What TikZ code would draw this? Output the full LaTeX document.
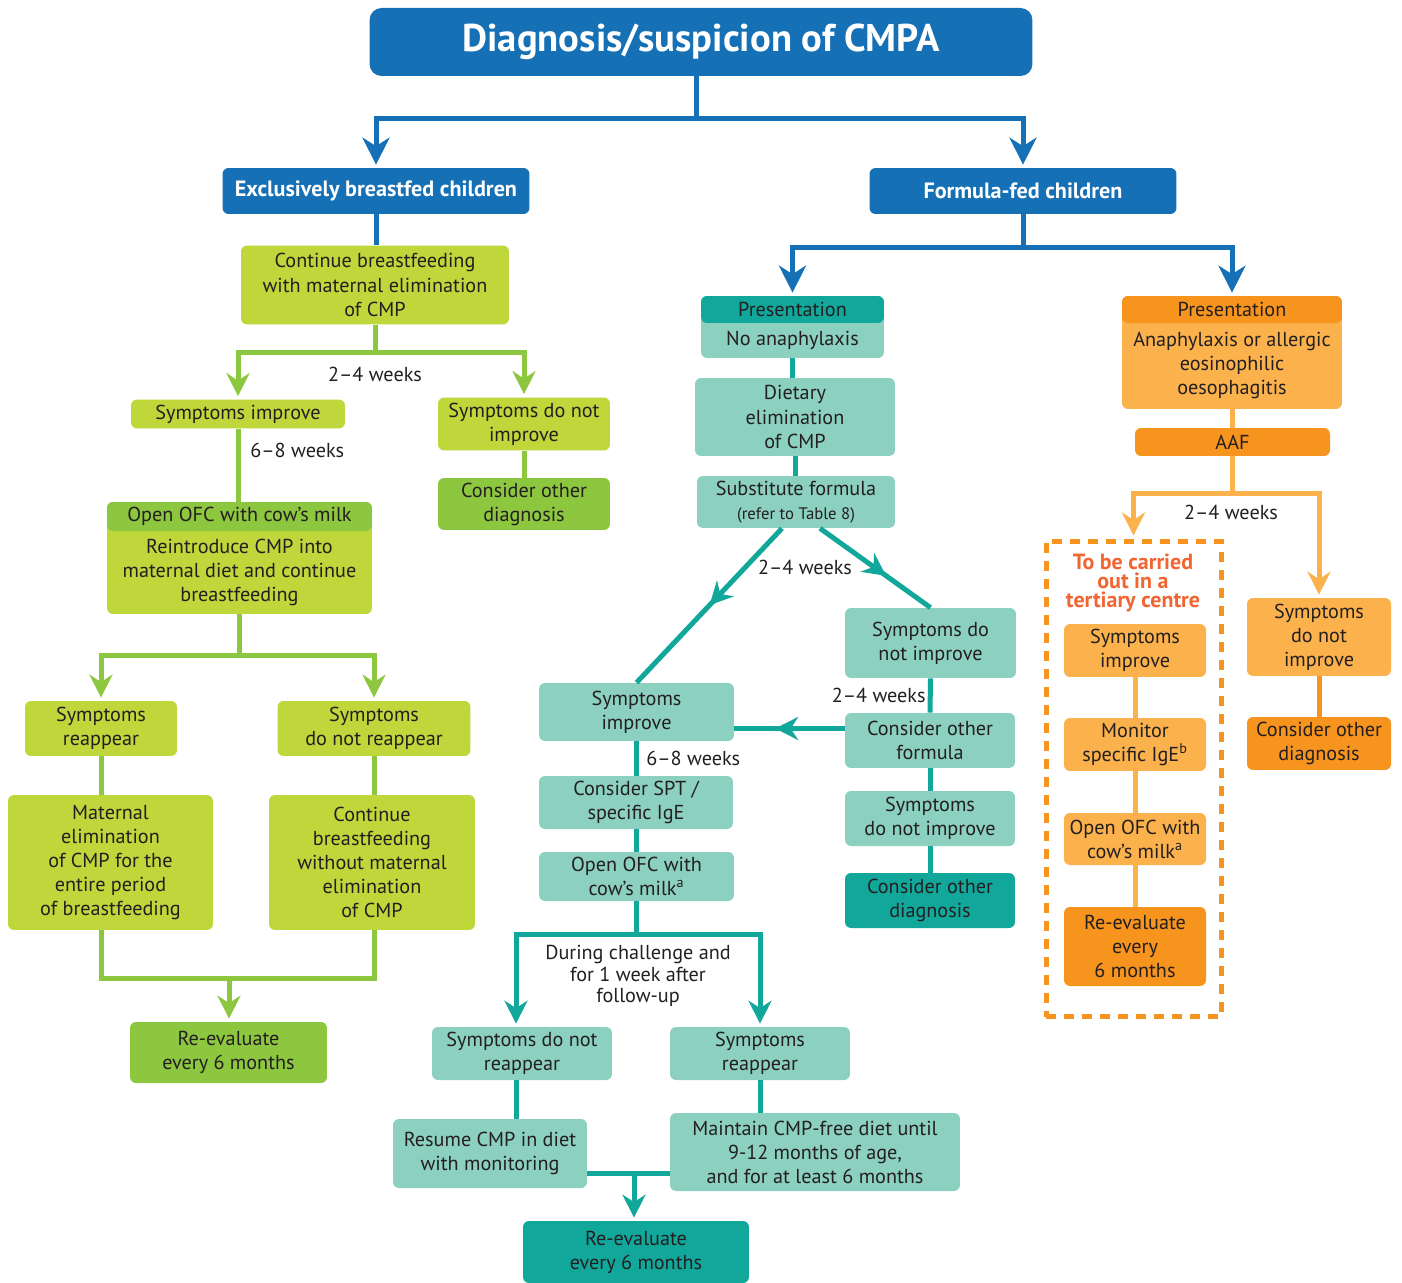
\documentclass[tikz,border=0pt]{standalone}
\usepackage{fontspec}
\setmainfont{PT Sans}
\usetikzlibrary{arrows.meta,positioning,calc,decorations.markings}
\definecolor{cmpablue}{RGB}{22,112,181}
\definecolor{limegreen}{RGB}{191,215,58}
\definecolor{leafgreen}{RGB}{141,198,63}
\definecolor{tealpale}{RGB}{140,208,192}
\definecolor{tealdeep}{RGB}{18,167,155}
\definecolor{orangepale}{RGB}{251,178,76}
\definecolor{orangedeep}{RGB}{247,148,30}
\definecolor{tertred}{RGB}{241,101,49}
\definecolor{inkgray}{RGB}{35,31,32}
\newcommand\cmpabody{\fontsize{11.5}{13.7}\selectfont}
\newcommand\cmpasmall{\fontsize{9.5}{11}\selectfont}

\begin{document}
\begin{tikzpicture}[x=0.02cm, y=-0.02cm,
    box/.style={rectangle, rounded corners=0.12cm, align=center, text=inkgray, font=\cmpabody, inner sep=0pt},
    sz/.style 2 args={minimum width=#1cm, minimum height=#2cm},
    headed/.style 2 args={path picture={\fill[#1] (path picture bounding box.north west) rectangle ([yshift=-#2]path picture bounding box.north east);}},
    titlebox/.style={box, fill=cmpablue, text=white, rounded corners=0.24cm, font=\fontsize{22}{26}\selectfont\bfseries},
    bluebox/.style={box, fill=cmpablue, text=white, font=\fontsize{12.6}{14}\selectfont\bfseries},
    limebox/.style={box, fill=limegreen},
    leafbox/.style={box, fill=leafgreen},
    palebox/.style={box, fill=tealpale},
    deepbox/.style={box, fill=tealdeep},
    ambox/.style={box, fill=orangepale},
    rustbox/.style={box, fill=orangedeep},
    tertframe/.style={rectangle, draw=orangedeep, line width=0.1cm, dash pattern=on 0.2cm off 0.16cm},
    tertnote/.style={align=center, text=tertred, inner sep=0pt, font=\fontsize{12.5}{11}\selectfont\bfseries},
    lbl/.style={align=center, text=inkgray, inner sep=0pt, font=\cmpabody},
    wire/.style={line width=0.1cm},
    bluewire/.style={wire, draw=cmpablue},
    greenwire/.style={wire, draw=leafgreen},
    tealwire/.style={wire, draw=tealdeep},
    orangewire/.style={wire, draw=orangepale},
    arrowend/.style={-{Stealth[length=0.46cm, width=0.46cm, inset=0.15cm]}, shorten >=0.06cm},
    bigarrowend/.style={-{Stealth[length=0.54cm, width=0.54cm, inset=0.17cm]}, shorten >=0.06cm},
    midarrow/.style={postaction={decorate}, decoration={markings, mark=at position #1 with {\arrow{Stealth[length=0.46cm, width=0.46cm, inset=0.15cm]}}}}]
    \useasboundingbox (0,0) rectangle (1402,1283);

    \node [titlebox, sz={13.26}{1.36}] (diag) at (701,42) {Diagnosis/suspicion of CMPA};
    \node [bluebox, sz={6.14}{0.92}] (breast) at (376,191) {Exclusively breastfed children};
    \node [bluebox, sz={6.14}{0.92}] (formula) at (1023,191) {Formula-fed children};

    % breastfed branch
    \node [limebox, sz={5.36}{1.58}] (elim) at (375,285) {Continue breastfeeding\\with maternal elimination\\of CMP};
    \node [limebox, sz={4.28}{0.58}] (bimprove) at (238,414) {Symptoms improve};
    \node [limebox, sz={3.44}{1.06}] (bnoimprove) at (524,424) {Symptoms do not\\improve};
    \node [leafbox, sz={3.44}{1.04}] (bother) at (524,504) {Consider other\\diagnosis};
    \node [limebox, sz={5.3}{2.24}, headed={leafgreen}{0.58cm}] (bofc) at (239.5,558) {};
    \node [lbl] (bofchead) at ([yshift=-0.29cm]bofc.north) {Open OFC with cow’s milk};
    \node [lbl] (bofcbody) at ([yshift=-1.41cm]bofc.north) {Reintroduce CMP into\\maternal diet and continue\\breastfeeding};
    \node [limebox, sz={3.04}{1.1}] (breappear) at (101,728.5) {Symptoms\\reappear};
    \node [limebox, sz={3.86}{1.1}] (bnoreappear) at (374,728.5) {Symptoms\\do not reappear};
    \node [limebox, sz={4.1}{2.7}] (bmaternal) at (110.5,862.5) {Maternal\\elimination\\of CMP for the\\entire period\\of breastfeeding};
    \node [limebox, sz={4.12}{2.7}] (bcontinue) at (372,862.5) {Continue\\breastfeeding\\without maternal\\elimination\\of CMP};
    \node [leafbox, sz={3.94}{1.22}] (breeval) at (228.5,1052.5) {Re-evaluate\\every 6 months};
    \node [lbl] (bweeks1) at (375,374) {2–4 weeks};
    \node [lbl, anchor=west] (bweeks2) at (250,450) {6–8 weeks};

    % formula-fed, no anaphylaxis
    \node [palebox, sz={3.66}{1.24}, headed={tealdeep}{0.54cm}] (tpres) at (792.5,327) {};
    \node [lbl] (tpreshead) at ([yshift=-0.27cm]tpres.north) {Presentation};
    \node [lbl] (tpresbody) at ([yshift=-0.89cm]tpres.north) {No anaphylaxis};
    \node [palebox, sz={4.0}{1.56}] (tdiet) at (795,417) {Dietary\\elimination\\of CMP};
    \node [palebox, sz={3.96}{1.04}] (tsubst) at (796,502) {Substitute formula\\{\cmpasmall (refer to Table 8)}};
    \node [palebox, sz={3.42}{1.4}] (tnoimprove) at (930.5,643) {Symptoms do\\not improve};
    \node [palebox, sz={3.4}{1.1}] (tother) at (930,740.5) {Consider other\\formula};
    \node [palebox, sz={3.4}{1.1}] (tnoimprove2) at (930,818.5) {Symptoms\\do not improve};
    \node [deepbox, sz={3.4}{1.1}] (tdiag) at (930,900.5) {Consider other\\diagnosis};
    \node [palebox, sz={3.9}{1.16}] (timprove) at (636.5,712) {Symptoms\\improve};
    \node [palebox, sz={3.88}{1.06}] (tspt) at (636,802.5) {Consider SPT /\\specific IgE};
    \node [palebox, sz={3.9}{0.98}] (tofc) at (636.5,876.5) {Open OFC with\\cow’s milk\textsuperscript{a}};
    \node [palebox, sz={3.6}{1.06}] (tnoreappear) at (522,1053.5) {Symptoms do not\\reappear};
    \node [palebox, sz={3.6}{1.06}] (treappear) at (760,1053.5) {Symptoms\\reappear};
    \node [palebox, sz={3.88}{1.38}] (tresume) at (490,1153.5) {Resume CMP in diet\\with monitoring};
    \node [palebox, sz={5.8}{1.56}] (tmaintain) at (815,1152) {Maintain CMP-free diet until\\9-12 months of age,\\and for at least 6 months};
    \node [deepbox, sz={4.52}{1.24}] (treeval) at (636,1252) {Re-evaluate\\every 6 months};
    \node [lbl] (tweeks1) at (805,567) {2–4 weeks};
    \node [lbl, anchor=east] (tweeks2) at (926,695) {2–4 weeks};
    \node [lbl, anchor=west] (tweeks3) at (646,758) {6–8 weeks};
    \node [lbl, font=\fontsize{11.5}{12.2}\selectfont] (tfollow) at (638,976) {During challenge and\\for 1 week after\\follow-up};

    % formula-fed, anaphylaxis
    \node [ambox, sz={4.4}{2.26}, headed={orangedeep}{0.54cm}] (opres) at (1232,352.5) {};
    \node [lbl] (opreshead) at ([yshift=-0.27cm]opres.north) {Presentation};
    \node [lbl] (opresbody) at ([yshift=-1.4cm]opres.north) {Anaphylaxis or allergic\\eosinophilic\\oesophagitis};
    \node [rustbox, sz={3.9}{0.56}] (oaaf) at (1232.5,442) {AAF};
    \node [tertframe, sz={3.5}{9.52}] (otert) at (1133.5,779) {};
    \node [tertnote] (otertnote) at (1133,583) {To be carried\\out in a\\tertiary centre};
    \node [ambox, sz={2.84}{1.06}] (oimprove) at (1135,650.5) {Symptoms\\improve};
    \node [ambox, sz={2.84}{1.06}] (omonitor) at (1135,744.5) {Monitor\\specific IgE\textsuperscript{b}};
    \node [ambox, sz={2.84}{1.04}] (oofc) at (1135,839) {Open OFC with\\cow’s milk\textsuperscript{a}};
    \node [rustbox, sz={2.84}{1.58}] (oreeval) at (1135,946.5) {Re-evaluate\\every\\6 months};
    \node [ambox, sz={2.88}{1.56}] (onoimprove) at (1319,637) {Symptoms\\do not\\improve};
    \node [rustbox, sz={2.88}{1.06}] (oother) at (1319,743.5) {Consider other\\diagnosis};
    \node [lbl] (oweeks) at (1231,512) {2–4 weeks};

    \coordinate (bjoin) at (229,978);
    \coordinate (tjoin) at (634,1173);

    \draw[bluewire, bigarrowend] ([xshift=-0.1cm]diag.south) -- ++(0,42) -| (breast.north);
    \draw[bluewire, bigarrowend] ([xshift=-0.1cm]diag.south) -- ++(0,42) -| (formula.north);
    \draw[bluewire] (breast.south) -- (breast.south |- elim.north);
    \draw[bluewire, bigarrowend] (formula.south) -- ++(0,33) -| (tpres.north);
    \draw[bluewire, bigarrowend] (formula.south) -- ++(0,33) -| (opres.north);

    \draw[greenwire, arrowend] (elim.south) -- ++(0,28) -| (bimprove.north);
    \draw[greenwire, arrowend] (elim.south) -- ++(0,28) -| (bnoimprove.north);
    \draw[greenwire] (bimprove.south) -- (bimprove.south |- bofc.north);
    \draw[greenwire] (bnoimprove.south) -- (bother.north);
    \draw[greenwire, arrowend] (bofc.south) -- ++(0,41) -| (breappear.north);
    \draw[greenwire, arrowend] (bofc.south) -- ++(0,41) -| (bnoreappear.north);
    \draw[greenwire] (breappear.south) -- (breappear.south |- bmaternal.north);
    \draw[greenwire] (bnoreappear.south) -- (bnoreappear.south |- bcontinue.north);
    \draw[greenwire] (breappear.south |- bmaternal.south) |- (bjoin) -| (bnoreappear.south |- bcontinue.south);
    \draw[greenwire, arrowend] (bjoin) -- (bjoin |- breeval.north);

    \draw[tealwire] (tpres.south) -- (tpres.south |- tdiet.north);
    \draw[tealwire] (tdiet.south) -- (tdiet.south |- tsubst.north);
    \draw[tealwire, midarrow=0.5] ([xshift=-0.28cm]tsubst.south) -- (timprove.north);
    \draw[tealwire, midarrow=0.6] ([xshift=0.48cm]tsubst.south) -- (tnoimprove.north);
    \draw[tealwire] (tnoimprove.south) -- (tother.north);
    \draw[tealwire, midarrow=0.63] ([yshift=0.24cm]tother.west) -- ([yshift=0.24cm]tother.west -| timprove.east);
    \draw[tealwire] (tother.south) -- (tnoimprove2.north);
    \draw[tealwire] (tnoimprove2.south) -- (tdiag.north);
    \draw[tealwire] (timprove.south) -- (timprove.south |- tspt.north);
    \draw[tealwire] (tspt.south) -- (tspt.south |- tofc.north);
    \draw[tealwire, arrowend] (tofc.south) -- ++(0,33) -| ([xshift=-0.12cm]tnoreappear.north);
    \draw[tealwire, arrowend] (tofc.south) -- ++(0,33) -| (treappear.north);
    \draw[tealwire] ([xshift=-0.12cm]tnoreappear.south) -- ++(0,39);
    \draw[tealwire] (treappear.south) -- (treappear.south |- tmaintain.north);
    \draw[tealwire] (tresume.east |- tjoin) -- (tmaintain.west |- tjoin);
    \draw[tealwire, arrowend] (tjoin) -- (tjoin |- treeval.north);

    \draw[orangewire] (opres.south) -- (opres.south |- oaaf.north);
    \draw[orangewire, arrowend] (oaaf.south) -- ++(0,37) -| (otert.north);
    \draw[orangewire, arrowend] (oaaf.south) -- ++(0,37) -| (onoimprove.north);
    \draw[orangewire] (oimprove.south) -- (omonitor.north);
    \draw[orangewire] (omonitor.south) -- (oofc.north);
    \draw[orangewire] (oofc.south) -- (oreeval.north);
    \draw[orangewire, draw=orangedeep] (onoimprove.south) -- (oother.north);
\end{tikzpicture}
\end{document}
